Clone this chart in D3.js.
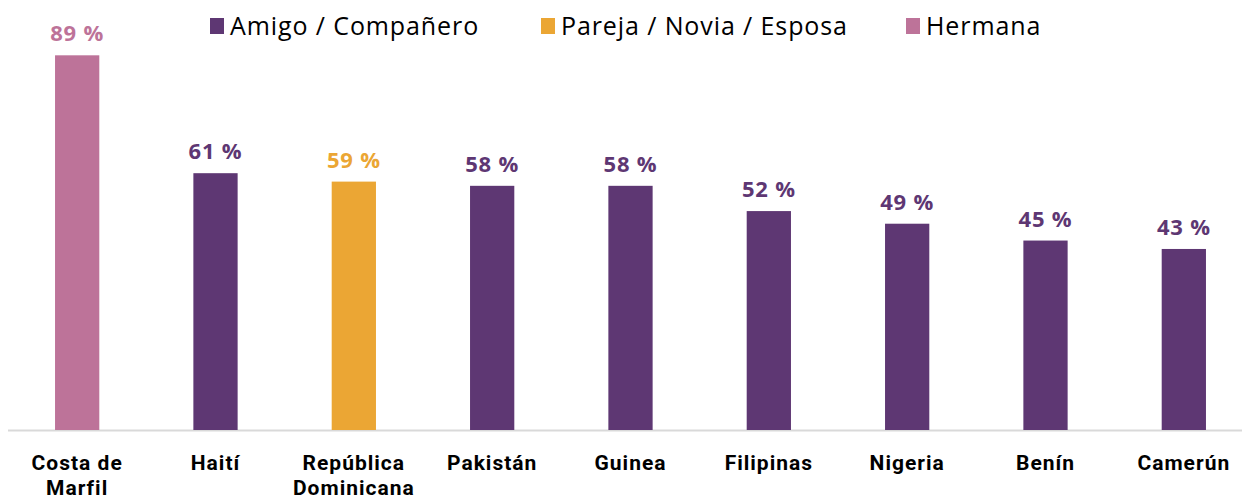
<!DOCTYPE html>
<html lang="es">
<head>
<meta charset="UTF-8">
<title>Relación</title>
<script src="https://cdn.jsdelivr.net/npm/d3@7"></script>
<style>
    body { margin: 0; background: #fff; font-family: 'Open Sans', sans-serif; }
    svg { display: block; }
</style>
</head>
<body>
<svg id="chart"></svg>
<script>
    const width = 1242;
    const height = 502;

    // data
    const countries = ["Costa de Marfil", "Haití", "República Dominicana", "Pakistán", "Guinea", "Filipinas", "Nigeria", "Benín", "Camerún"];
    const values = [89, 61, 59, 58, 58, 52, 49, 45, 43];
    const groups = ["Hermana", "Amigo / Compañero", "Pareja / Novia / Esposa", "Amigo / Compañero", "Amigo / Compañero",
        "Amigo / Compañero", "Amigo / Compañero", "Amigo / Compañero", "Amigo / Compañero"];
    const legendNames = ["Amigo / Compañero", "Pareja / Novia / Esposa", "Hermana"];
    const labelLines = [["Costa de", "Marfil"], ["Haití"], ["República", "Dominicana"], ["Pakistán"], ["Guinea"],
        ["Filipinas"], ["Nigeria"], ["Benín"], ["Camerún"]];

    const color = d3.scaleOrdinal()
        .domain(legendNames)
        .range(["#5E3773", "#EBA634", "#BD7399"]);

    const svg = d3.select("#chart").attr("width", width).attr("height", height);

    const baseY = 430;
    const x = d3.scaleBand().domain(countries).range([8, 1253]).paddingInner(0.68).paddingOuter(0.34);
    const y = d3.scaleLinear().domain([0, 100]).range([baseY, 9]);

    // axis line
    svg.append("line")
        .attr("x1", 8).attr("x2", width)
        .attr("y1", baseY + 0.5).attr("y2", baseY + 0.5)
        .attr("stroke", "#d9d9d9").attr("stroke-width", 2);

    svg.selectAll("rect.bar")
        .data(countries)
        .enter().append("rect")
        .attr("class", "bar")
        .attr("x", d => x(d))
        .attr("width", x.bandwidth())
        .attr("y", (d, i) => y(values[i]))
        .attr("height", (d, i) => baseY - y(values[i]))
        .attr("fill", (d, i) => color(groups[i]));

    // value labels
    svg.selectAll("text.val")
        .data(countries)
        .enter().append("text")
        .attr("class", "val")
        .attr("x", d => x(d) + x.bandwidth() / 2)
        .attr("y", (d, i) => y(values[i]) - 14)
        .attr("text-anchor", "middle")
        .attr("font-size", 22)
        .attr("font-weight", "bold")
        .attr("letter-spacing", 0.8)
        .attr("fill", (d, i) => color(groups[i]))
        .text((d, i) => values[i] + " %");

    // category labels (Roboto: tighter line box so two lines at 25px don't collide)
    const cat = svg.selectAll("text.cat")
        .data(countries)
        .enter().append("text")
        .attr("class", "cat")
        .attr("x", d => x(d) + x.bandwidth() / 2)
        .attr("y", 470)
        .attr("text-anchor", "middle")
        .attr("font-family", "Roboto, sans-serif")
        .attr("font-size", 21)
        .attr("font-weight", "bold")
        .attr("letter-spacing", 1)
        .attr("fill", "#000");
    cat.each(function(d, i) {
        const t = d3.select(this);
        labelLines[i].forEach((line, j) => {
            t.append("tspan")
                .attr("x", x(d) + x.bandwidth() / 2)
                .attr("dy", j === 0 ? 0 : 25)
                .text(line);
        });
    });

    // legend
    const legendX = [210, 541, 906];
    const legend = svg.selectAll("g.leg")
        .data(legendNames)
        .enter().append("g")
        .attr("class", "leg")
        .attr("transform", (d, i) => `translate(${legendX[i]},18)`);
    legend.append("rect")
        .attr("width", 14).attr("height", 16)
        .attr("fill", d => color(d));
    legend.append("text")
        .attr("x", 20).attr("y", 17)
        .attr("font-size", 25)
        .attr("letter-spacing", 0.9)
        .attr("fill", "#000")
        .text(d => d);
</script>
</body>
</html>
